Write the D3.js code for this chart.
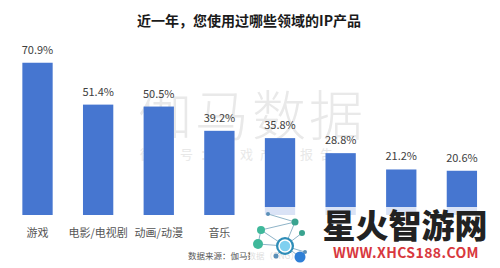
<!DOCTYPE html>
<html>
<head>
<meta charset="utf-8">
<script src="https://cdn.jsdelivr.net/npm/d3@7"></script>
<style>
  body { margin: 0; background: #fff; }
  svg text { font-family: "Noto Sans CJK SC", "Noto Sans", sans-serif; }
</style>
</head>
<body>
<div class="chart"></div>
<script>
// values; last four category labels are hidden by the site logo
const categories = ["游戏", "电影/电视剧", "动画/动漫", "音乐", "", "", "", ""];
const values = [70.9, 51.4, 50.5, 39.2, 35.8, 28.8, 21.2, 20.6];
const title = "近一年，您使用过哪些领域的IP产品";
const source = "数据来源：伽马数据（CNG）";

const width = 500, height = 268;
const data = values.map((v, i) => ({i: i, name: categories[i], value: v}));

const svg = d3.select(".chart")
    .append("svg")
    .attr("width", width)
    .attr("height", height);

svg.append("rect").attr("width", width).attr("height", height).attr("fill", "#fff");

// faint background watermark
svg.append("text")
    .attr("x", 252).attr("y", 136)
    .attr("text-anchor", "middle")
    .attr("font-size", 54)
    .attr("font-weight", 300)
    .attr("letter-spacing", 3)
    .attr("fill", "#e9e9e9")
    .text("伽马数据");

svg.append("text")
    .attr("x", 240).attr("y", 159)
    .attr("text-anchor", "middle")
    .attr("font-size", 13)
    .attr("letter-spacing", 7)
    .attr("fill", "#e8e8e8")
    .text("微信号：游戏产业报告");

const x = d3.scaleBand()
    .domain(d3.range(values.length))
    .range([7.2, 492.2])
    .paddingInner(0.5)
    .paddingOuter(0.25);

const y = d3.scaleLinear()
    .domain([0, 80])
    .range([215, 43.2]);

svg.append("text")
    .attr("x", 249).attr("y", 26)
    .attr("text-anchor", "middle")
    .attr("font-size", 14)
    .attr("font-weight", "bold")
    .attr("fill", "#1a1a1a")
    .text(title);

svg.selectAll(".bar")
    .data(data)
    .enter()
    .append("rect")
    .attr("class", "bar")
    .attr("x", d => x(d.i))
    .attr("y", d => y(d.value))
    .attr("width", x.bandwidth())
    .attr("height", d => y(0) - y(d.value))
    .attr("fill", "#4676d0");

svg.selectAll(".val")
    .data(data)
    .enter()
    .append("text")
    .attr("class", "val")
    .attr("x", d => x(d.i) + x.bandwidth() / 2)
    .attr("y", d => y(d.value) - 9)
    .attr("text-anchor", "middle")
    .attr("font-size", 11)
    .attr("fill", "#404040")
    .text(d => d.value.toFixed(1) + "%");

svg.selectAll(".cat")
    .data(data)
    .enter()
    .append("text")
    .attr("class", "cat")
    .attr("x", d => x(d.i) + x.bandwidth() / 2)
    .attr("y", 237)
    .attr("text-anchor", "middle")
    .attr("font-size", 11)
    .attr("fill", "#555")
    .text(d => d.name);

svg.append("text")
    .attr("x", 188).attr("y", 259)
    .attr("font-size", 8.5)
    .attr("fill", "#555")
    .text(source);

// reposting site logo laid over the lower right corner
const logo = svg.append("g");
logo.append("rect")
    .attr("x", 250).attr("y", 207)
    .attr("width", 250).attr("height", 61)
    .attr("fill", "#fff").attr("opacity", 0.8);

const nodes = [[268, 214, 2, "#5a8fb8"], [295, 222, 3.5, "#3aa38f"], [261, 230, 4, "#3fb89a"],
               [258, 244, 5, "#3fb89a"], [285, 246, 9, "#2e8db8"], [302, 233, 3, "#3aa38f"],
               [305, 252, 2, "#5a8fb8"], [300, 257, 5.5, "#2f7fd6"], [276, 256, 2.5, "#5a8fb8"]];
const links = [[0, 1], [1, 2], [2, 3], [3, 4], [4, 1], [4, 5], [4, 6], [4, 7], [4, 8], [2, 4]];
logo.selectAll("line")
    .data(links)
    .enter()
    .append("line")
    .attr("x1", d => nodes[d[0]][0]).attr("y1", d => nodes[d[0]][1])
    .attr("x2", d => nodes[d[1]][0]).attr("y2", d => nodes[d[1]][1])
    .attr("stroke", "#8fb4c8").attr("stroke-width", 1);
logo.selectAll("circle")
    .data(nodes)
    .enter()
    .append("circle")
    .attr("cx", d => d[0]).attr("cy", d => d[1]).attr("r", d => d[2])
    .attr("fill", d => d[3]);
logo.append("circle")
    .attr("cx", 285).attr("cy", 246).attr("r", 6)
    .attr("fill", "#7fd0f0").attr("stroke", "#fff").attr("stroke-width", 1.5);

logo.append("text")
    .attr("x", 405).attr("y", 238)
    .attr("text-anchor", "middle")
    .attr("font-size", 33)
    .attr("font-weight", 900)
    .attr("fill", "#222")
    .text("星火智游网");

logo.append("text")
    .attr("x", 406).attr("y", 258)
    .attr("text-anchor", "middle")
    .attr("font-family", "DejaVu Sans")
    .attr("font-size", 14)
    .attr("font-weight", "bold")
    .attr("letter-spacing", 0.4)
    .attr("fill", "#d8383e")
    .text("WWW.XHCS188.COM");
</script>
</body>
</html>
